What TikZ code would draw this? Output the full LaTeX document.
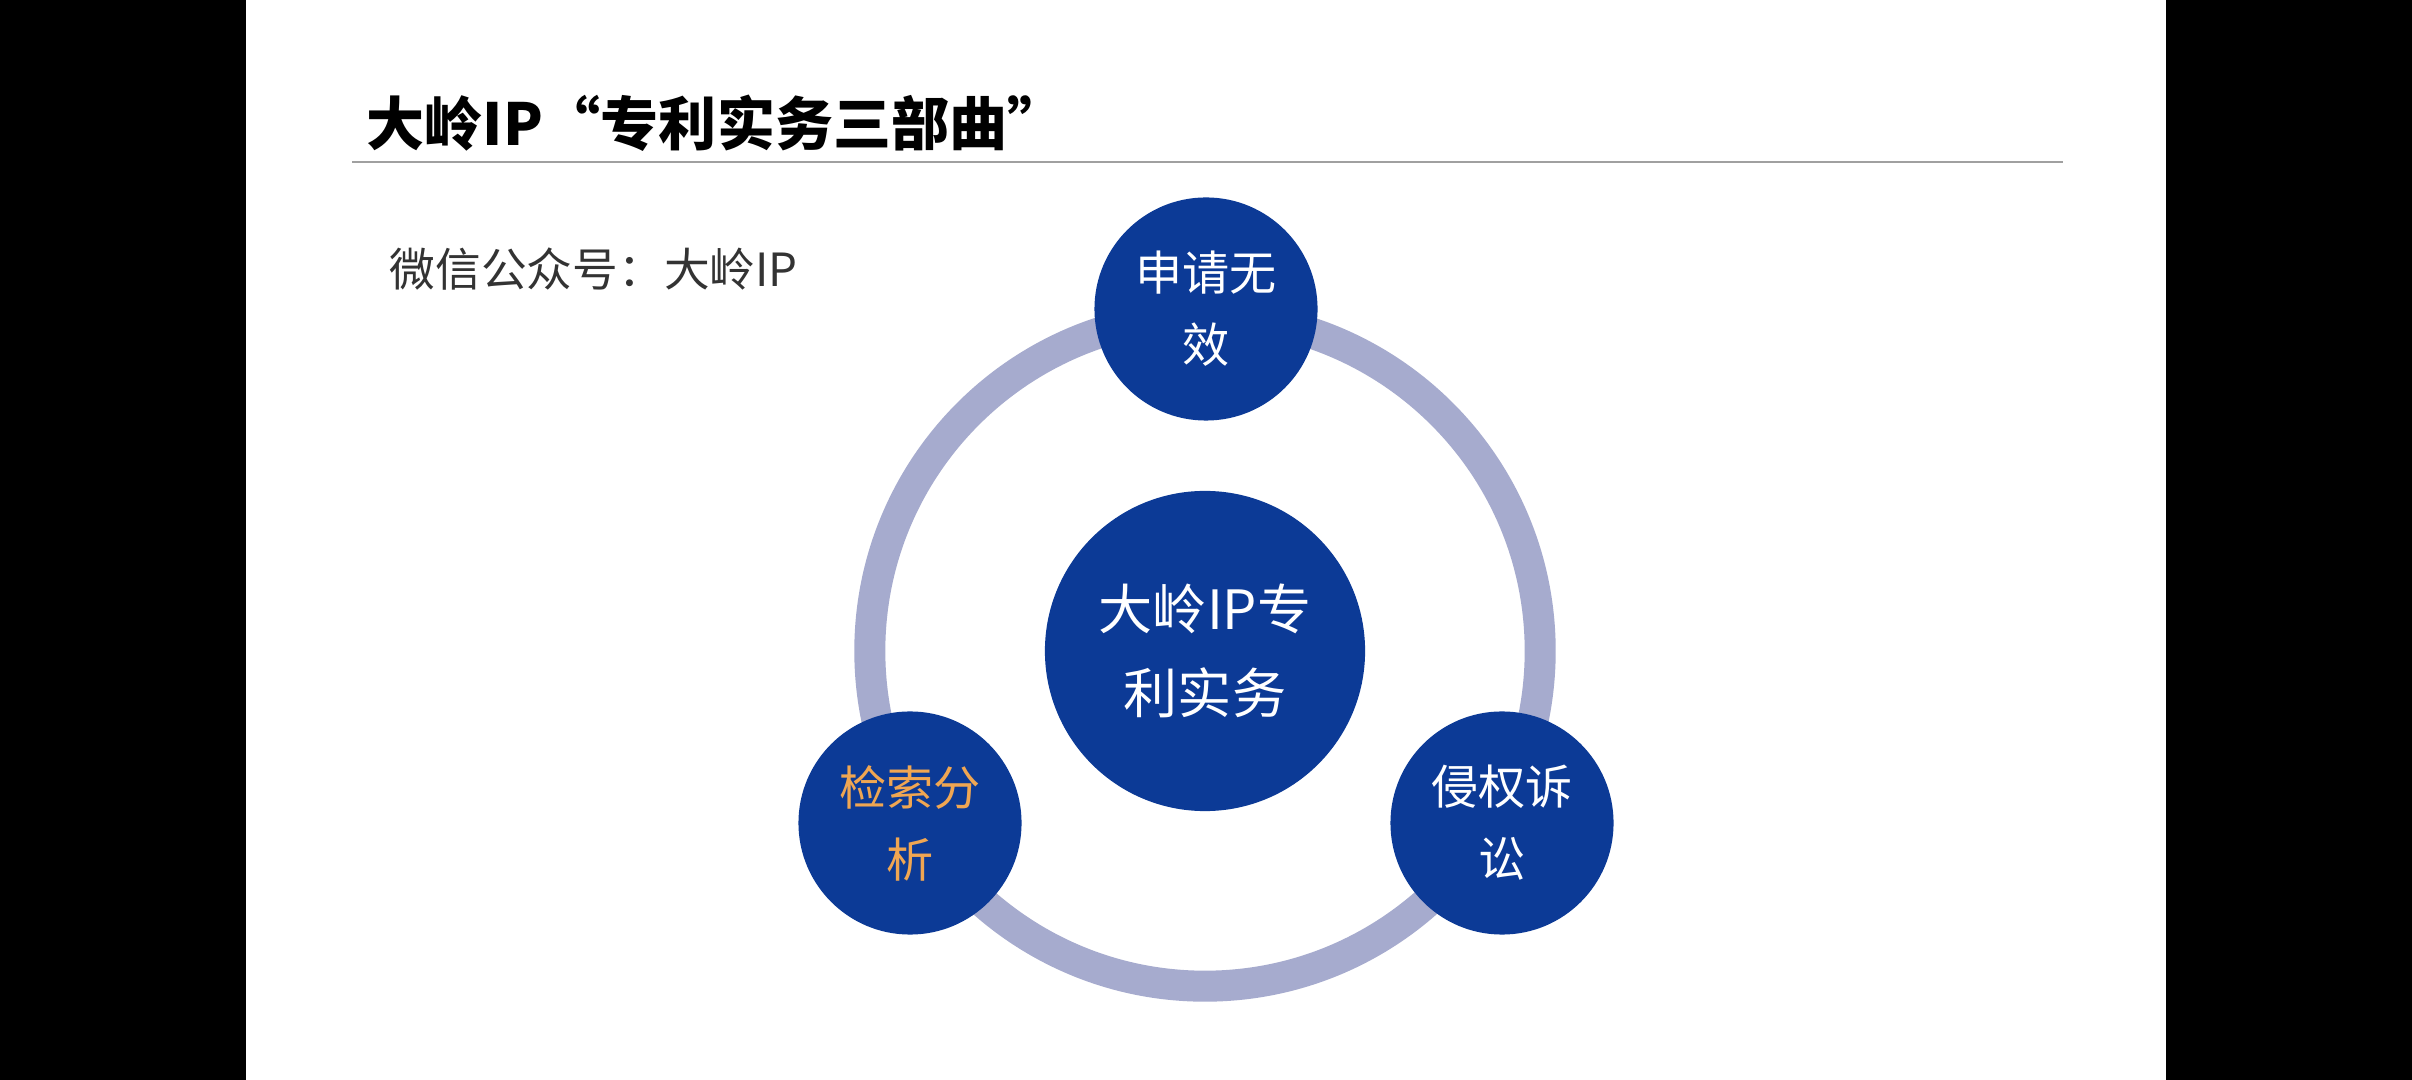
\documentclass[tikz,border=0pt]{standalone}
\usepackage{fontspec}
\setmainfont{Noto Sans CJK SC}
\usepackage{tikz}

\definecolor{dlblue}{RGB}{12,58,150}
\definecolor{dlring}{RGB}{166,171,206}
\definecolor{dlorange}{RGB}{240,166,82}
\definecolor{dlgray}{RGB}{160,160,160}

\tikzset{
  ball/.style={circle, fill=dlblue, inner sep=0pt, minimum size=2.23cm, text=white, align=center,
    font=\fontsize{13.4pt}{20.5pt}\selectfont},
  core/.style={ball, minimum size=3.2cm, font=\fontsize{15.4pt}{24pt}\selectfont},
  ring/.style={draw=dlring, line width=0.31cm}
}

\begin{document}
\begin{tikzpicture}[x=0.01cm, y=-0.01cm]
		\useasboundingbox (0,0) rectangle (2412,1080);
		%Fondo
		\fill [black] (0,0) rectangle (246,1080);
		\fill [black] (2166,0) rectangle (2412,1080);
		\fill [white] (246,0) rectangle (2166,1080);
		%Titulo
		\node [anchor=west, inner sep=0pt, font=\fontsize{16.5pt}{20pt}\selectfont\bfseries] (titulo) at (366,123) {大岭IP“专利实务三部曲”};
		\draw [dlgray, line width=0.7pt] (352,162)--(2063,162);
		\node [anchor=west, inner sep=0pt, text=black!80, font=\fontsize{13pt}{16pt}\selectfont] (cuenta) at (389,269) {微信公众号：大岭IP};
		%Anillo
		\coordinate (eje) at (1205,651);
		\draw [ring] (eje) circle (3.35cm);
		\node [core] (centro) at (eje) {大岭IP专\\利实务};
		\node [ball] (arriba) at (1206,309) {申请无\\效};
		\node [ball, text=dlorange] (izq) at (910,823) {检索分\\析};
		\node [ball] (der) at (1502,823) {侵权诉\\讼};
	\end{tikzpicture}
\end{document}
